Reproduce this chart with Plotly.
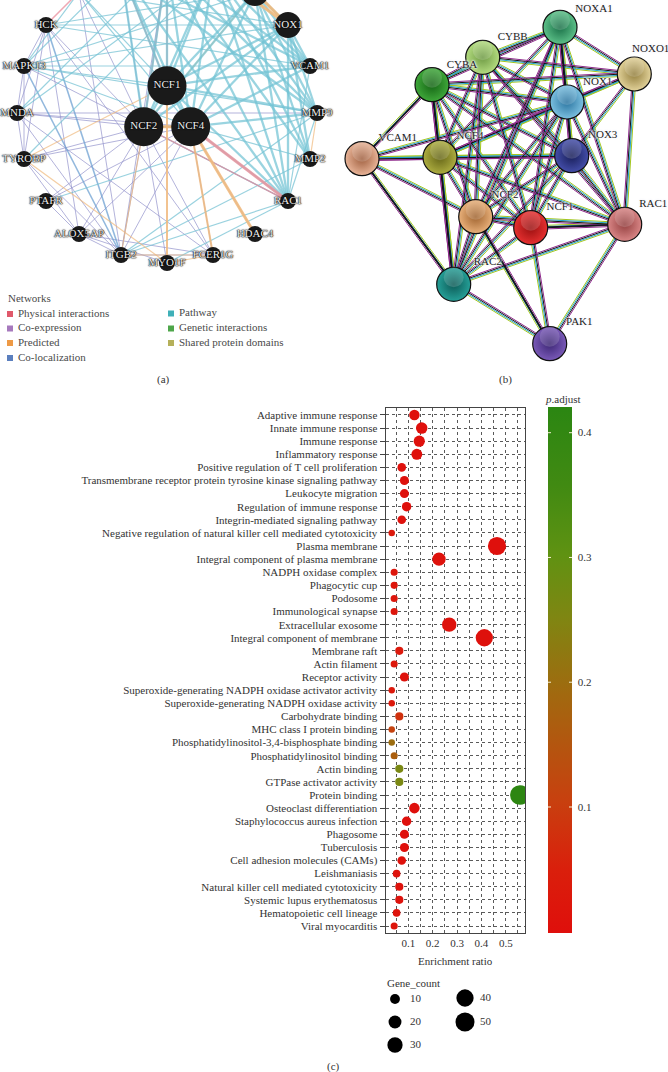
import numpy as np
import plotly.graph_objects as go

SERIF = "Liberation Serif"

# ---------- panel (c) data ----------
terms = ["Adaptive immune response","Innate immune response","Immune response","Inflammatory response",
"Positive regulation of T cell proliferation","Transmembrane receptor protein tyrosine kinase signaling pathway",
"Leukocyte migration","Regulation of immune response","Integrin-mediated signaling pathway",
"Negative regulation of natural killer cell mediated cytotoxicity","Plasma membrane",
"Integral component of plasma membrane","NADPH oxidase complex","Phagocytic cup","Podosome",
"Immunological synapse","Extracellular exosome","Integral component of membrane","Membrane raft",
"Actin filament","Receptor activity","Superoxide-generating NADPH oxidase activator activity",
"Superoxide-generating NADPH oxidase activity","Carbohydrate binding","MHC class I protein binding",
"Phosphatidylinositol-3,4-bisphosphate binding","Phosphatidylinositol binding","Actin binding",
"GTPase activator activity","Protein binding","Osteoclast differentiation","Staphylococcus aureus infection",
"Phagosome","Tuberculosis","Cell adhesion molecules (CAMs)","Leishmaniasis",
"Natural killer cell mediated cytotoxicity","Systemic lupus erythematosus","Hematopoietic cell lineage",
"Viral myocarditis"]
enrichment = [.125,.155,.145,.135,.073,.084,.084,.093,.073,.032,.464,.226,.042,.042,.042,.042,.268,.412,.063,.042,
              .084,.032,.032,.063,.032,.032,.042,.063,.063,.558,.125,.093,.084,.084,.073,.052,.063,.063,.052,.042]
gene_count = [12,15,14,13,7,8,8,9,7,3,45,22,4,4,4,4,26,40,6,4,8,3,3,6,3,3,4,6,6,54,12,9,8,8,7,5,6,6,5,4]
p_adjust = [.002,.001,.001,.001,.004,.006,.004,.003,.006,.03,.003,.01,.02,.02,.02,.02,.01,.006,.03,.03,
            .01,.03,.03,.08,.11,.2,.17,.26,.26,.415,.001,.002,.003,.003,.005,.012,.008,.01,.012,.02]
legend_counts = [10,20,30,40,50]
legend_x = [395,395,395,465,465]
legend_y = [999,1022,1045,998,1022]

def dot_size(c):
    return 2.4 + 2.35*np.sqrt(np.asarray(c, float))

RED_GREEN = [[0,"#df0f0c"],[.12,"#da1f0c"],[.25,"#c8400f"],[.45,"#a2680f"],[.6,"#7f8612"],
             [.72,"#5f9212"],[.85,"#418a12"],[1,"#2b8612"]]
CB_MIN, CB_MAX = -0.001, 0.4202
CB_TOP, CB_BOT, CB_L, CB_R = 407.5, 933.0, 548.0, 572.0
cb_ticks = [.1,.2,.3,.4]

# ---------- panel (a) data ----------
a_nodes = {"NCF1":(167,85.7),"NCF2":(143.7,126.7),"NCF4":(190.7,126.7),"HCK":(46,25),"MAPK13":(24,66),
 "MNDA":(17,113),"TYROBP":(24,159),"PTAFR":(46,201),"ALOX5AP":(79,234),"ITGB2":(121,255),"MYO1F":(167,263),
 "FCER1G":(213,255),"HDAC4":(255,234),"RAC1":(288,201),"MMP2":(310,159),"MMP9":(317,113),"VCAM1":(310,66),
 "NOX1":(288,25),"T1":(79,-8),"T2":(121,-30),"T3":(167,-37),"T4":(213,-30),"T5":(255,-8)}
a_big = {"NCF1":39,"NCF2":39,"NCF4":39,"NOX1":26,"T5":28}
a_hidden = ["T1","T2","T3","T4","T5"]

core = ["NCF1","NCF2","NCF4"]
tops = ["T2","T3","T4","T5","NOX1"]
a_path_thick = [(c,t) for c in core for t in tops] + [("NOX1",n) for n in ["MMP9","VCAM1","MMP2","RAC1"]] + \
 [("T5","RAC1"),("T5","MMP2"),("T5","MMP9"),("T5","VCAM1"),("T4","RAC1"),("T4","MMP9"),("T4","MMP2"),
  ("T4","VCAM1"),("T3","RAC1"),("T3","MMP9"),("T3","VCAM1"),("T3","MMP2"),("T2","RAC1"),("T2","MMP9"),("T2","VCAM1"),
  ("NCF4","VCAM1"),("NCF4","MMP9"),("NCF1","VCAM1"),("NCF1","RAC1"),("NCF1","NCF2"),("NCF1","NCF4"),("NCF2","NCF4"),
  ("NCF1","MMP9"),("T4","T5"),("T5","NOX1")]
a_path_thin = [("MAPK13","T5"),("MAPK13","NOX1"),("MAPK13","NCF1"),("MAPK13","NCF4"),("HCK","NOX1"),("HCK","T5"),
 ("HCK","VCAM1"),("MNDA","T4"),("MNDA","T3"),("RAC1","ITGB2"),("MMP2","ITGB2"),("RAC1","MYO1F"),("MMP9","PTAFR"),
 ("MAPK13","MMP9"),("TYROBP","T4"),("T1","MAPK13"),("T2","MAPK13"),("T1","NCF1"),("RAC1","VCAM1"),("RAC1","MMP9"),
 ("MMP9","ITGB2"),("NCF2","RAC1"),("NCF4","RAC1"),("MMP2","NCF4"),("MAPK13","VCAM1"),("T1","NOX1"),("T1","NCF4")]
a_coexp = [("HCK","NCF2"),("HCK","MAPK13"),("HCK","MNDA"),("HCK","TYROBP"),("HCK","FCER1G"),("HCK","ALOX5AP"),
 ("MAPK13","NCF2"),("MAPK13","MNDA"),("MAPK13","TYROBP"),("MNDA","NCF2"),("MNDA","NCF4"),("MNDA","TYROBP"),
 ("MNDA","ITGB2"),("MNDA","FCER1G"),("MNDA","MMP9"),("TYROBP","NCF2"),("TYROBP","NCF4"),("TYROBP","ALOX5AP"),
 ("TYROBP","ITGB2"),("PTAFR","ALOX5AP"),("PTAFR","NCF2"),("PTAFR","NCF4"),("ALOX5AP","NCF2"),("ALOX5AP","NCF4"),
 ("ALOX5AP","ITGB2"),("ALOX5AP","FCER1G"),("ALOX5AP","MYO1F"),("ITGB2","NCF2"),("ITGB2","NCF4"),
 ("ITGB2","FCER1G"),("MYO1F","NCF2"),("FCER1G","NCF2"),("FCER1G","NCF4"),("HDAC4","NCF4"),("RAC1","NCF2"),
 ("T1","T3"),("T1","ITGB2"),("T3","ITGB2"),("T1","NCF2"),("T2","NCF2")]
a_pred = [("NCF1","TYROBP"),("NCF2","T5"),("NCF2","ITGB2"),("TYROBP","MYO1F"),("ITGB2","FCER1G"),("MYO1F","FCER1G"),
 ("MMP9","MMP2"),("NCF2","NCF4")]
a_pred_mid = [("NCF1","MYO1F"),("NCF4","FCER1G")]
a_pred_thick = [("NCF4","HDAC4"),("NOX1","T5"),("T4","NOX1"),("NCF2","NCF4")]
a_phys = [("NCF1","T3"),("NCF2","T3"),("NCF1","T2"),("NCF2","NCF4"),("NCF2","RAC1"),("HCK","T1")]
a_phys_thick = [("NCF4","RAC1")]
a_coloc = [("HCK","ITGB2"),("MAPK13","ITGB2"),("T2","T3"),("T3","T4")]

a_legend_names = ["Physical interactions","Co-expression","Predicted","Co-localization",
                  "Pathway","Genetic interactions","Shared protein domains"]
a_legend_colors = ["#e0596b","#a679bd","#ee9a45","#5b7fbe","#3fb0b8","#4ea64a","#b5b05a"]
a_legend_x = [10,10,10,10,171,171,171]
a_legend_y = [314,328.5,343,358,313.5,328.5,343]

# ---------- panel (b) data ----------
b_names = ["NOXA1","CYBB","CYBA","NOXO1","NOX1","VCAM1","NCF4","NOX3","NCF2","NCF1","RAC1","RAC2","PAK1"]
b_x = [560,482.7,432,634.3,567,362,440,571.7,475.7,530.7,624.7,453.7,549.7]
b_y = [27.3,57.3,84.7,74,102,158.7,157.3,155.7,216.7,227.7,224.3,284.3,343.7]
b_label_x = [594,512.7,462,650.7,597.7,397.7,470,602.7,505,560,653.3,487.7,579.3]
b_label_y = [9,37.7,65,49,82.3,138.3,136.7,135,195.7,207.7,204,262.3,322.3]
b_colors = ["#5cc088","#b4dc80","#3fa83a","#e2d29a","#7cc0e0","#e8b498","#adad40","#444eaa","#e8b07a",
            "#e63030","#d98686","#25a098","#7a5ab8"]
b_edge_dark = ["#1a7048","#6e9a44","#146414","#94803f","#2a74a0","#a06040","#666618","#181e58","#a06430",
               "#9a1010","#944040","#0c5a56","#3c2674"]
b_core = ["CYBB","CYBA","NOXA1","NOX1","NCF4","NOX3","NCF2","NCF1","RAC1","RAC2"]
b_edges = [(u,v) for i,u in enumerate(b_core) for v in b_core[i+1:]] + \
 [("NOXO1",n) for n in ["NOXA1","CYBB","CYBA","NOX1","NCF4","NOX3","RAC1"]] + \
 [("VCAM1",n) for n in ["CYBA","NCF4","NCF2","RAC2","NOX1","NOX3"]] + \
 [("PAK1",n) for n in ["RAC1","RAC2","NCF1","NCF2"]]
b_channels = ["#a3c61f","#1f9fc9","#111111","#8e2a8c"]
b_heavy = [("VCAM1","RAC2"),("NCF4","RAC2"),("CYBA","NCF4"),("NCF2","PAK1"),("NOXA1","NOX1"),("NCF1","RAC1"),
           ("VCAM1","CYBA"),("NOX1","NOX3")]

fig = go.Figure()

def a_trace(pairs, color, width):
    xs, ys = [], []
    for u, v in pairs:
        xs += [a_nodes[u][0], a_nodes[v][0], None]
        ys += [a_nodes[u][1], a_nodes[v][1], None]
    fig.add_trace(go.Scatter(x=xs, y=ys, mode="lines", line=dict(color=color, width=width), hoverinfo="skip",
                             xaxis="x", yaxis="y", showlegend=False))

a_trace(a_coexp, "rgba(150,150,205,0.72)", 1.0)
a_trace(a_coloc, "rgba(110,160,210,0.75)", 1.6)
a_trace(a_path_thin, "rgba(120,195,212,0.75)", 1.2)
a_trace(a_pred, "rgba(240,185,125,0.7)", 1.2)
a_trace(a_phys, "rgba(232,140,155,0.75)", 1.5)
a_trace(a_path_thick, "rgba(115,195,212,0.72)", 2.3)
a_trace(a_pred_mid, "rgba(240,185,125,0.85)", 2)
a_trace(a_pred_thick, "rgba(240,185,125,0.9)", 3)
a_trace(a_phys_thick, "rgba(228,150,160,0.9)", 3)

# panel (a) nodes
n_names = list(a_nodes)
fig.add_trace(go.Scatter(
    x=[a_nodes[n][0] for n in n_names], y=[a_nodes[n][1] for n in n_names],
    mode="markers+text", marker=dict(color="#1a1a1a", size=[a_big.get(n,16) for n in n_names], line=dict(width=0), opacity=1),
    text=["" if n in a_hidden else n for n in n_names], textposition="middle center",
    textfont=dict(family=SERIF, size=11, color="#eeeeee", shadow="0 0 1px #000, 0 0 1px #000, 0 0 2px #000"),
    hoverinfo="skip", xaxis="x", yaxis="y", showlegend=False))

# panel (a) legend
fig.add_trace(go.Scatter(x=a_legend_x, y=a_legend_y, mode="markers",
    marker=dict(symbol="square", size=6, color=a_legend_colors, opacity=1), hoverinfo="skip", xaxis="x", yaxis="y", showlegend=False))
fig.add_trace(go.Scatter(x=[v+8 for v in a_legend_x], y=a_legend_y, mode="text", text=a_legend_names,
    textposition="middle right", textfont=dict(family=SERIF, size=11, color="#4a4a4a"),
    hoverinfo="skip", xaxis="x", yaxis="y", showlegend=False))

# panel (b) edges
pos = {n:(x,y) for n,x,y in zip(b_names,b_x,b_y)}
for k, col in enumerate(b_channels):
    xs, ys = [], []
    for u, v in b_edges:
        p, q = np.array(pos[u]), np.array(pos[v])
        d = q-p
        nrm = np.array([-d[1], d[0]])/np.hypot(*d)
        off = (k-1.5)*1.2
        a, b = p+nrm*off, q+nrm*off
        xs += [a[0], b[0], None]; ys += [a[1], b[1], None]
    fig.add_trace(go.Scatter(x=xs, y=ys, mode="lines", line=dict(color=col, width=1.0), hoverinfo="skip",
                             xaxis="x", yaxis="y", showlegend=False))
xs, ys = [], []
for u, v in b_heavy:
    xs += [pos[u][0], pos[v][0], None]; ys += [pos[u][1], pos[v][1], None]
fig.add_trace(go.Scatter(x=xs, y=ys, mode="lines", line=dict(color="#14141e", width=1.6), hoverinfo="skip",
                         xaxis="x", yaxis="y", showlegend=False))

# panel (b) nodes
fig.add_trace(go.Scatter(x=b_x, y=b_y, mode="markers",
    marker=dict(size=34, color=b_colors, gradient=dict(type="radial", color=b_edge_dark), opacity=1,
                line=dict(color="#101010", width=1.2)),
    hoverinfo="skip", xaxis="x", yaxis="y", showlegend=False))
fig.add_trace(go.Scatter(x=b_x, y=[v-7 for v in b_y], mode="markers",
    marker=dict(size=20, opacity=1, color="rgba(255,255,255,0.16)", line=dict(width=0)),
    hoverinfo="skip", xaxis="x", yaxis="y", showlegend=False))
fig.add_trace(go.Scatter(x=b_label_x, y=b_label_y, mode="text", text=b_names, textposition="middle center",
    textfont=dict(family=SERIF, size=11, color="#222222", shadow="0 0 2px #fff, 0 0 2px #fff, 0 0 3px #dde"),
    hoverinfo="skip", xaxis="x", yaxis="y", showlegend=False))

# panel (c) dots
fig.add_trace(go.Scatter(x=enrichment, y=terms, mode="markers",
    marker=dict(size=dot_size(gene_count), color=p_adjust, colorscale=RED_GREEN, cmin=CB_MIN, cmax=CB_MAX,
                line=dict(width=0), opacity=1,
                colorbar=dict(x=CB_L/668, xanchor="left", xpad=0, ypad=0, thickness=CB_R-CB_L,
                              y=(1072-CB_BOT)/1072, yanchor="bottom", len=(CB_BOT-CB_TOP)/1072, lenmode="fraction",
                              outlinewidth=0, tickvals=cb_ticks, ticks="outside", ticklen=4, tickcolor="rgba(0,0,0,0)",
                              tickfont=dict(family=SERIF, size=11, color="#333333"))),
    hoverinfo="skip", xaxis="x2", yaxis="y2", showlegend=False))

# Gene_count legend
fig.add_trace(go.Scatter(x=legend_x, y=legend_y, mode="markers",
    marker=dict(size=dot_size(legend_counts), color="#000000", line=dict(width=0), opacity=1),
    hoverinfo="skip", xaxis="x", yaxis="y", showlegend=False))
fig.add_trace(go.Scatter(x=[v+15 for v in legend_x], y=legend_y, mode="text", text=[str(c) for c in legend_counts],
    textposition="middle right", textfont=dict(family=SERIF, size=11, color="#333333"),
    hoverinfo="skip", xaxis="x", yaxis="y", showlegend=False))

def note(x, y, text, size=11, color="#333333", anchor="center"):
    return dict(x=x, y=y, xref="x", yref="y", text=text, showarrow=False, xanchor=anchor, yanchor="middle",
                font=dict(family=SERIF, size=size, color=color))

annotations = [
    note(6, 298, "Networks", 11, "#4a4a4a", "left"),
    note(163, 379, "(a)"), note(505, 379, "(b)"), note(333, 1066, "(c)"),
    note(455, 961, "Enrichment ratio"),
    note(563, 399, "<i>p</i>.adjust"),
    note(413, 983, "Gene_count"),
]

def py(v):
    return CB_BOT - (v-CB_MIN)/(CB_MAX-CB_MIN)*(CB_BOT-CB_TOP)

# colour-bar tick dashes on both edges: annotations sit above the colour bar, shapes do not
for v in cb_ticks:
    for x0, dx in ((CB_L, 4.5), (CB_R, -4.5)):
        annotations.append(dict(x=x0, y=py(v), xref="x", yref="y", text="", showarrow=True, arrowhead=0, arrowwidth=1,
                                arrowcolor="#f4f0d0", ax=dx, ay=0, axref="pixel", ayref="pixel", standoff=0,
                                startstandoff=0))

PL, PR, PT, PB = 385.5, 525.0, 407.5, 933.0
GRID = "#5a5a5a"
fig.update_layout(
    width=668, height=1072, margin=dict(l=0, r=0, t=0, b=0), autosize=False,
    paper_bgcolor="white", plot_bgcolor="rgba(0,0,0,0)", showlegend=False,
    annotations=annotations,
    xaxis=dict(domain=[0,1], range=[0,668], visible=False, fixedrange=True),
    yaxis=dict(domain=[0,1], range=[1072,0], visible=False, fixedrange=True),
    xaxis2=dict(domain=[PL/668, PR/668], anchor="y2", range=[0.0064,0.579], tickvals=[.1,.2,.3,.4,.5], ticktext=["0.1","0.2","0.3","0.4","0.5"],
                ticks="", showgrid=True, griddash="dot", gridcolor=GRID, gridwidth=0.8,
                minor=dict(tick0=0.05, dtick=0.05, showgrid=True, griddash="dot", gridcolor=GRID, gridwidth=0.8),
                showline=True, mirror=True, linecolor="#444444", linewidth=1, zeroline=False,
                tickfont=dict(family=SERIF, size=11, color="#333333")),
    yaxis2=dict(domain=[(1072-PB)/1072, (1072-PT)/1072], anchor="x2", type="category", categoryorder="array", categoryarray=terms,
                range=[39.53,-0.57], ticks="outside", ticklen=5, tickcolor="#444444", tickwidth=1, dtick=1,
                showgrid=True, griddash="dot", gridcolor=GRID, gridwidth=0.8,
                showline=True, mirror=True, linecolor="#444444", linewidth=1,
                tickfont=dict(family=SERIF, size=11, color="#333333")),
)

fig.write_html("out.html", config=dict(displayModeBar=False, responsive=False),
               post_script="document.body.style.margin='0';document.body.style.overflow='hidden';")
